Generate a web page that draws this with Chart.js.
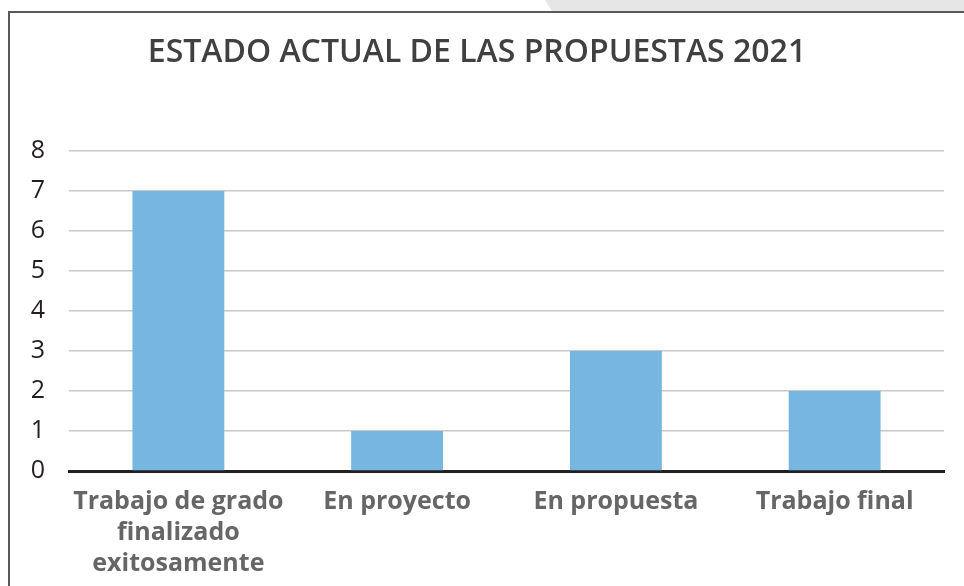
<!DOCTYPE html>
<html>
<head>
<meta charset="utf-8">
<script src="https://cdn.jsdelivr.net/npm/chart.js@4.4.0/dist/chart.umd.min.js"></script>
<style>
  html, body { margin: 0; padding: 0; background: #fff; }
  #wrap { position: relative; width: 964px; height: 586px; overflow: hidden; }
  #strip { position: absolute; left: 0; top: 0; width: 964px; height: 11px; background: #e6e6e6;
           clip-path: polygon(545px 0, 964px 0, 964px 11px, 552px 11px); }
  #frame { position: absolute; left: 8px; top: 11px; width: 1000px; height: 600px;
           border-left: 2px solid #595959; border-top: 2px solid #595959; }
  canvas { position: absolute; left: 0; top: 0; }
</style>
</head>
<body>
<div id="wrap">
  <div id="strip"></div>
  <div id="frame"></div>
  <canvas id="chart" width="964" height="586"></canvas>
</div>
<script>
// data
const categories = [
  ['Trabajo de grado', 'finalizado', 'exitosamente'],
  'En proyecto',
  'En propuesta',
  'Trabajo final'
];
const counts = [7, 1, 3, 2];
const yMin = 0;
const yMax = 8;

const chart = new Chart(document.getElementById('chart'), {
  type: 'bar',
  data: {
    labels: categories,
    datasets: [{
      label: 'Propuestas',
      data: counts,
      backgroundColor: '#76b6e0',
      barPercentage: 0.42,
      categoryPercentage: 1
    }]
  },
  options: {
    responsive: false,
    animation: false,
    layout: { padding: { left: 10, right: 20, top: 0, bottom: 0 } },
    plugins: {
      legend: { display: false },
      tooltip: { enabled: false },
      title: {
        display: true,
        text: 'ESTADO ACTUAL DE LAS PROPUESTAS 2021',
        color: '#404040',
        font: { family: 'Open Sans', size: 32, weight: '600', lineHeight: 1.2 },
        padding: { top: 34, bottom: 78.6 }
      }
    },
    scales: {
      y: {
        min: yMin,
        max: yMax,
        ticks: {
          stepSize: 1,
          color: '#231f20',
          padding: 24,
          font: { family: 'Open Sans', size: 25 }
        },
        grid: { color: '#c8c8c8', lineWidth: 1.5, drawTicks: false },
        border: { display: false },
        afterFit: (scale) => { scale.width = 59; }
      },
      x: {
        ticks: {
          color: '#666666',
          padding: 15,
          maxRotation: 0,
          autoSkip: false,
          font: { family: 'Open Sans', size: 25, weight: 'bold', lineHeight: 1.24 }
        },
        grid: { display: false, drawTicks: false },
        border: { color: '#231f20', width: 3 },
        afterFit: (scale) => { scale.height = 115; }
      }
    }
  }
});
</script>
</body>
</html>
